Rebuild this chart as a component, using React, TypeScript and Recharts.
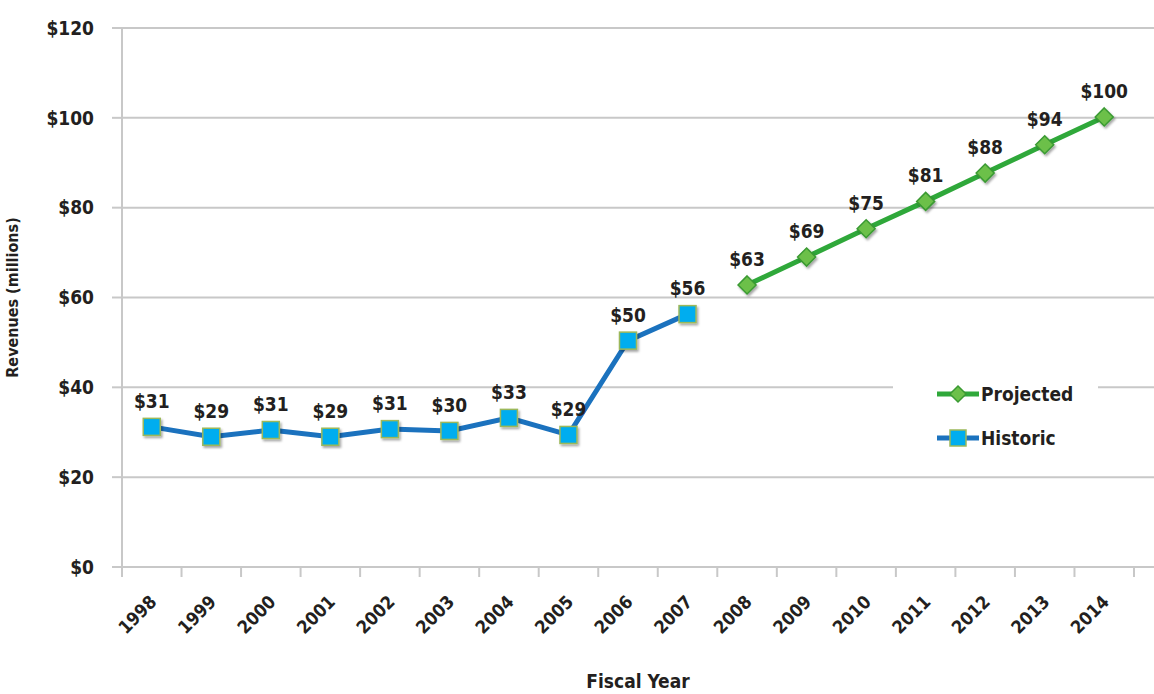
import { LineChart, Line, XAxis, YAxis, CartesianGrid, LabelList, Label } from "recharts";

const years = ["1998", "1999", "2000", "2001", "2002", "2003", "2004", "2005", "2006", "2007", "2008", "2009", "2010", "2011", "2012", "2013", "2014"];
const historic = [31.2, 29, 30.5, 29, 30.7, 30.3, 33.2, 29.4, 50.4, 56.3];
const projected = [62.8, 69, 75.3, 81.4, 87.7, 94, 100.2];
const yTicks = [0, 20, 40, 60, 80, 100, 120];

const data = years.map((year, i) => ({
  year,
  historic: i < historic.length ? historic[i] : null,
  projected: i >= historic.length ? projected[i - historic.length] : null,
}));

const W = 1154;
const H = 694;
const LEFT = 122;
const RIGHT_PAD = 20;
const bandW = (W - LEFT - RIGHT_PAD) / years.length;

const font = "'DejaVu Sans Condensed', 'Liberation Sans Narrow', sans-serif";
const textStyle = { fontStretch: "condensed" } as any;
const textColor = "#231f20";
const gridColor = "#c8c8c8";
const blue = "#1b72be";
const green = "#2fa83a";

const SquareDot = (props: any) => {
  const { cx, cy, value } = props;
  if (value == null || cx == null) return null;
  const s = 17;
  return (
    <rect x={cx - s / 2} y={cy - s / 2} width={s} height={s} fill="#00adef" stroke="#9cb85a" strokeWidth={1.5} filter="url(#shadow)" />
  );
};

const DiamondDot = (props: any) => {
  const { cx, cy, value } = props;
  if (value == null || cx == null) return null;
  const r = 9;
  return (
    <path d={`M${cx},${cy - r}L${cx + r},${cy}L${cx},${cy + r}L${cx - r},${cy}Z`} fill="#6cc04a" stroke="#3a9a33" strokeWidth={1.5} filter="url(#shadow)" />
  );
};

const XTick = (props: any) => {
  const { x, y, payload, index } = props;
  const tx = x + 6;
  const ty = y + 28;
  return (
    <g>
      <line x1={x - bandW / 2} y1={y - 8} x2={x - bandW / 2} y2={y + 2} stroke={gridColor} strokeWidth={2} />
      {index === years.length - 1 && (
        <line x1={x + bandW / 2} y1={y - 8} x2={x + bandW / 2} y2={y + 2} stroke={gridColor} strokeWidth={2} />
      )}
      <text x={tx} y={ty} textAnchor="end" transform={`rotate(-45 ${tx} ${ty})`} fontSize={18} fontWeight={700} fill={textColor} fontFamily={font} style={textStyle}>
        {payload.value}
      </text>
    </g>
  );
};

const LegendBox = () => (
  <div style={{ position: "absolute", left: 893, top: 368, width: 205, background: "#fff", padding: "4px 0 4px 42px", boxSizing: "border-box", fontFamily: font, fontStretch: "condensed", fontSize: 19, fontWeight: 700, color: textColor }}>
    <div style={{ display: "flex", alignItems: "center", height: 44 }}>
      <svg width={46} height={22}>
        <line x1={2} y1={11} x2={44} y2={11} stroke={green} strokeWidth={5} />
        <path d="M23,3L31,11L23,19L15,11Z" fill="#6cc04a" stroke="#3a9a33" strokeWidth={1.5} />
      </svg>
      <span>Projected</span>
    </div>
    <div style={{ display: "flex", alignItems: "center", height: 44 }}>
      <svg width={46} height={22}>
        <line x1={2} y1={11} x2={44} y2={11} stroke={blue} strokeWidth={5} />
        <rect x={15} y={3} width={16} height={16} fill="#00adef" stroke="#9cb85a" strokeWidth={1.5} />
      </svg>
      <span>Historic</span>
    </div>
  </div>
);

const money = (v: any) => `$${Math.round(Number(v))}`;

const App = () => {
  return (
    <div style={{ position: "absolute", left: 0, top: 0, width: W, height: H, background: "#fff" }}>
      <LineChart width={W} height={H} data={data} margin={{ top: 28, right: 0, left: 0, bottom: 0 }}>
        <defs>
          <filter id="shadow" x="-50%" y="-50%" width="200%" height="200%">
            <feDropShadow dx={1.5} dy={2} stdDeviation={1.2} floodColor="#000" floodOpacity={0.35} />
          </filter>
        </defs>
        <CartesianGrid vertical={false} stroke={gridColor} strokeWidth={2} />
        <XAxis
          dataKey="year"
          scale="band"
          padding={{ left: 0, right: RIGHT_PAD }}
          height={127}
          axisLine={{ stroke: gridColor, strokeWidth: 2 }}
          tickLine={false}
          tick={<XTick />}
          interval={0}
        >
          <Label value="Fiscal Year" position="insideBottom" offset={6} fontSize={19} fontWeight={700} fill={textColor} fontFamily={font} style={textStyle} />
        </XAxis>
        <YAxis
          domain={[0, 120]}
          ticks={yTicks}
          width={LEFT}
          tickSize={10}
          tickMargin={18}
          tickFormatter={(v) => `$${v}`}
          axisLine={{ stroke: gridColor, strokeWidth: 2 }}
          tickLine={{ stroke: gridColor, strokeWidth: 2 }}
          tick={{ fontSize: 19, fontWeight: 700, fill: textColor, fontFamily: font, style: textStyle }}
        >
          <Label value="Revenues (millions)" angle={-90} position="insideLeft" offset={12} fontSize={16} fontWeight={700} fill={textColor} fontFamily={font} style={{ textAnchor: "middle", fontStretch: "condensed" }} />
        </YAxis>
        <Line dataKey="historic" stroke={blue} strokeWidth={5} dot={<SquareDot />} activeDot={false} isAnimationActive={false} connectNulls={false}>
          <LabelList dataKey="historic" position="top" offset={19} formatter={money} fontSize={19} fontWeight={700} fill={textColor} fontFamily={font} style={textStyle} />
        </Line>
        <Line dataKey="projected" stroke={green} strokeWidth={5} dot={<DiamondDot />} activeDot={false} isAnimationActive={false} connectNulls={false}>
          <LabelList dataKey="projected" position="top" offset={19} formatter={money} fontSize={19} fontWeight={700} fill={textColor} fontFamily={font} style={textStyle} />
        </Line>
      </LineChart>
      <LegendBox />
    </div>
  );
};

export default App;
